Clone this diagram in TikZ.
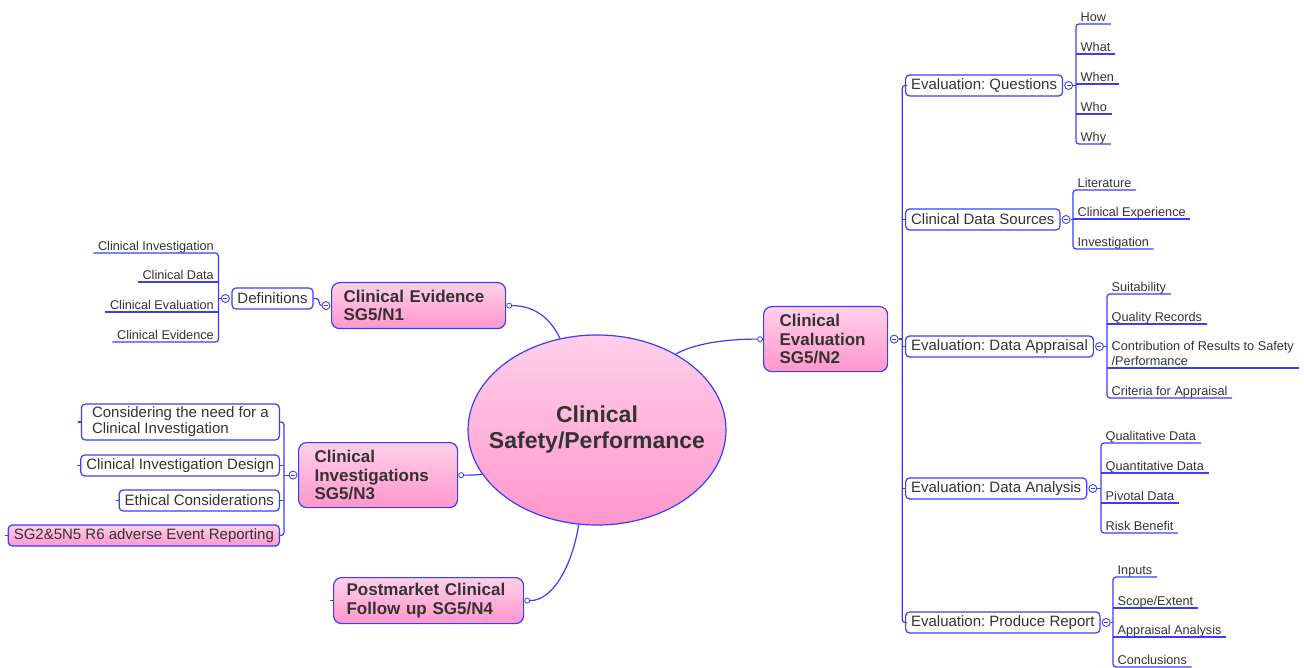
\documentclass[tikz,border=0pt]{standalone}
\usepackage{fontspec}
\setmainfont{Liberation Sans}
\frenchspacing
\usetikzlibrary{shapes.geometric,calc}
\definecolor{lc}{RGB}{60,60,250}
\definecolor{tc}{RGB}{51,51,51}
\definecolor{pkT}{RGB}{255,208,234}
\definecolor{pkB}{RGB}{255,150,204}
\begin{document}
\begin{tikzpicture}[x=1pt,y=-1pt,
  every node/.style={text=tc},
  conn/.style={draw=lc,line width=1.2pt},
  tree/.style={conn,rounded corners=3pt},
  mainbox/.style={draw=lc,line width=1.2pt,rounded corners=8pt,top color=pkT,bottom color=pkB,
    font=\fontsize{17}{18.5}\selectfont\bfseries,align=left,inner ysep=0pt,anchor=north west},
  subbox/.style={draw=lc,line width=1.2pt,rounded corners=4pt,fill=white,
    font=\fontsize{15}{16}\selectfont,minimum height=21pt,inner xsep=5.5pt,inner ysep=0pt},
  leafR/.style={font=\fontsize{12.7}{14.5}\selectfont,text height=9pt,text depth=2.5pt,
    inner xsep=4.5pt,inner ysep=0pt,anchor=south west},
  leafL/.style={leafR,anchor=south east},
  coll/.style={circle,draw=lc,fill=white,line width=0.9pt,minimum size=8pt,inner sep=0pt,
    path picture={\draw[lc,line width=0.7pt] ([xshift=-2pt]path picture bounding box.center) -- ([xshift=2pt]path picture bounding box.center);}},
  dot/.style={circle,draw=lc,fill=white,line width=0.8pt,minimum size=5pt,inner sep=0pt},
]
\useasboundingbox (0,0) rectangle (1304,668);

% central ellipse
\node[ellipse,draw=lc,line width=1.2pt,top color=pkT,bottom color=pkB,minimum width=258pt,
  minimum height=190pt,inner sep=0pt] (ctr) at (597,430) {};
\node[align=center,font=\fontsize{23}{26}\selectfont\bfseries,inner sep=0pt] (ctrT) at (ctr.center) {Clinical\\Safety/Performance};

% main boxes
\node[mainbox,text width=150pt,inner xsep=12pt,minimum height=46pt] (ce) at (331,282) {Clinical Evidence\\SG5/N1};
\node[mainbox,text width=92pt,inner xsep=16pt,minimum height=65pt] (ev) at (763,306) {Clinical\\Evaluation\\SG5/N2};
\node[mainbox,text width=127pt,inner xsep=16pt,minimum height=65pt] (ci) at (298,442) {Clinical\\Investigations\\SG5/N3};
\node[mainbox,text width=164pt,inner xsep=13pt,minimum height=46pt] (pm) at (333,577) {Postmarket Clinical\\Follow up SG5/N4};

% connectors from centre
\node[dot] (ceD) at ([xshift=3pt]ce.east) {};
\node[dot] (evD) at ([xshift=-3pt]ev.west) {};
\node[dot] (ciD) at ([xshift=3pt]ci.east) {};
\node[dot] (pmD) at ([xshift=3pt]pm.east) {};
\draw[conn] (ceD.east) .. controls +(25,0) and +(-8,-17) .. (ctr.112);
\draw[conn] (ctr.44) .. controls +(20,-11) and +(-30,0) .. (evD.west);
\draw[conn] (ciD.east) .. controls +(10,0) and +(-8,1) .. (ctr.201);
\draw[conn] (pmD.east) .. controls +(25,0) and +(-5,35) .. (ctr.259);
\draw[conn] (pm.west) -- ++(-3,0);

% ---- Clinical Evidence: Definitions
\node[coll] (ceC) at ([xshift=-5pt]ce.west) {};
\node[subbox] (def) at (272.5,298.5) {Definitions};
\draw[conn] (def.east) -- ++(3,0) .. controls +(3,0) and +(-3,0) .. (ceC.west);
\node[coll] (defC) at ([xshift=-6pt]def.west) {};
\node[leafL] (d1) at (218.5,253) {Clinical Investigation};
\node[leafL] (d2) at (218.5,282) {Clinical Data};
\node[leafL] (d3) at (218.5,312) {Clinical Evaluation};
\node[leafL] (d4) at (218.5,342) {Clinical Evidence};
\draw[tree] (d1.south west) -- (d1.south east) -- (d4.south east) -- (d4.south west);
\draw[conn] (d2.south west) -- (d2.south east);
\draw[conn] (d3.south west) -- (d3.south east);
\draw[conn] (defC.west) -- (defC.west -| d1.south east);

% ---- Clinical Investigations children
\node[coll] (ciC) at ([xshift=-5pt]ci.west) {};
\coordinate (ciV) at ([xshift=-9pt]ciC.center);
\node[subbox,anchor=east,align=left,minimum height=36pt,minimum width=198pt,inner xsep=6pt] (k1) at (280,422) {Considering the need for a\\Clinical Investigation};
\node[subbox,anchor=east] (k2) at (280,465.5) {Clinical Investigation Design};
\node[subbox,anchor=east] (k3) at (280,500.5) {Ethical Considerations};
\node[subbox,anchor=east,top color=pkT,bottom color=pkB] (k4) at (280,535.5) {SG2\&5N5 R6 adverse Event Reporting};
\draw[tree] (k1.east) -- (k1.east -| ciV) -- (k4.east -| ciV) -- (k4.east);
\draw[conn] (k2.east) -- (k2.east -| ciV);
\draw[conn] (k3.east) -- (k3.east -| ciV);
\draw[conn] (ciC.west) -- (ciV);
\foreach \k in {k1,k2,k3,k4} \draw[conn] (\k.west) -- ++(-3,0);

% ---- Clinical Evaluation children
\node[coll] (evC) at ([xshift=6pt]ev.east) {};
\coordinate (evV) at ([xshift=8pt]evC.center);
\node[subbox,anchor=west] (q)  at (905,85.5)  {Evaluation: Questions};
\node[subbox,anchor=west] (ds) at (905,219.5) {Clinical Data Sources};
\node[subbox,anchor=west] (da) at (905,346.5) {Evaluation: Data Appraisal};
\node[subbox,anchor=west] (an) at (905,488.5) {Evaluation: Data Analysis};
\node[subbox,anchor=west] (pr) at (905,622.5) {Evaluation: Produce Report};
\draw[tree] (q.west) -- (q.west -| evV) -- (pr.west -| evV) -- (pr.west);
\foreach \b in {ds,da,an} \draw[conn] (\b.west -| evV) -- (\b.west);
\draw[conn] (evC.east) -- (evV);

% Questions
\node[coll] (qC) at ([xshift=5.5pt]q.east) {};
\node[leafR] (q1) at (1076,24)  {How};
\node[leafR] (q2) at (1076,54)  {What};
\node[leafR] (q3) at (1076,84)  {When};
\node[leafR] (q4) at (1076,114) {Who};
\node[leafR] (q5) at (1076,144) {Why};
\draw[tree] (q1.south east) -- (q1.south west) -- (q5.south west) -- (q5.south east);
\foreach \l in {q2,q3,q4} \draw[conn] (\l.south west) -- (\l.south east);
\draw[conn] (qC.east) -- (qC.east -| q1.south west);

% Data sources
\node[coll] (dsC) at ([xshift=5.5pt]ds.east) {};
\node[leafR] (s1) at (1073,190) {Literature};
\node[leafR] (s2) at (1073,219) {Clinical Experience};
\node[leafR] (s3) at (1073,249) {Investigation};
\draw[tree] (s1.south east) -- (s1.south west) -- (s3.south west) -- (s3.south east);
\draw[conn] (s2.south west) -- (s2.south east);
\draw[conn] (dsC.east) -- (dsC.east -| s1.south west);

% Data appraisal
\node[coll] (daC) at ([xshift=5.5pt]da.east) {};
\node[leafR] (a1) at (1107,294) {Suitability};
\node[leafR] (a2) at (1107,324) {Quality Records};
\node[leafR,align=left,text height=23.5pt] (a3) at (1107,368) {Contribution of Results to Safety\\/Performance};
\node[leafR] (a4) at (1107,398) {Criteria for Appraisal};
\draw[tree] (a1.south east) -- (a1.south west) -- (a4.south west) -- (a4.south east);
\draw[conn] (a2.south west) -- (a2.south east);
\draw[conn] (a3.south west) -- (a3.south east);
\draw[conn] (daC.east) -- (daC.east -| a1.south west);

% Data analysis
\node[coll] (anC) at ([xshift=5.5pt]an.east) {};
\node[leafR] (n1) at (1101,443) {Qualitative Data};
\node[leafR] (n2) at (1101,473) {Quantitative Data};
\node[leafR] (n3) at (1101,503) {Pivotal Data};
\node[leafR] (n4) at (1101,533) {Risk Benefit};
\draw[tree] (n1.south east) -- (n1.south west) -- (n4.south west) -- (n4.south east);
\foreach \l in {n2,n3} \draw[conn] (\l.south west) -- (\l.south east);
\draw[conn] (anC.east) -- (anC.east -| n1.south west);

% Produce report
\node[coll] (prC) at ([xshift=5.5pt]pr.east) {};
\node[leafR] (r1) at (1113,577) {Inputs};
\node[leafR] (r2) at (1113,608) {Scope/Extent};
\node[leafR] (r3) at (1113,637) {Appraisal Analysis};
\node[leafR] (r4) at (1113,667) {Conclusions};
\draw[tree] (r1.south east) -- (r1.south west) -- (r4.south west) -- (r4.south east);
\foreach \l in {r2,r3} \draw[conn] (\l.south west) -- (\l.south east);
\draw[conn] (prC.east) -- (prC.east -| r1.south west);
\end{tikzpicture}
\end{document}
